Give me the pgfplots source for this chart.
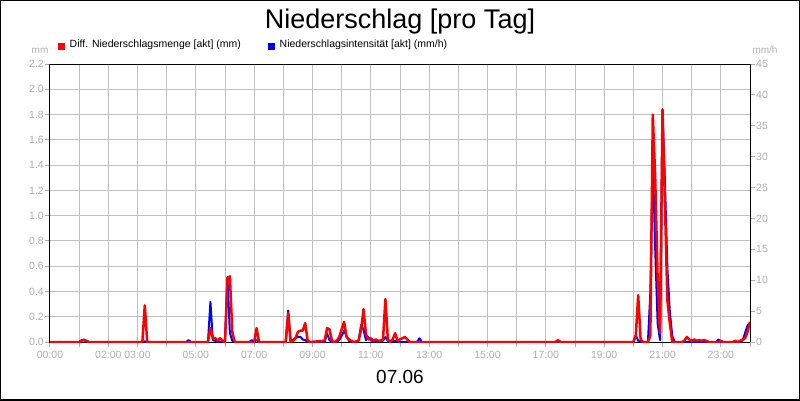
\documentclass[border=0pt]{standalone}
\usepackage{pgfplots}
\pgfplotsset{compat=1.18}
\usepackage{fontspec}
\setmainfont{Liberation Sans}
\definecolor{tickgray}{RGB}{175,175,175}
\definecolor{gridgray}{RGB}{192,192,192}
\pgfplotsset{
  common/.style={
    at={(50pt,58pt)}, anchor=south west, scale only axis,
    width=700pt, height=278pt, xmin=0, xmax=24,
    /pgf/number format/assume math mode=true,
    tick align=outside, major tick length=5pt,
    tick style={tickgray, line width=1pt},
    ticklabel style={tickgray, font=\fontsize{10.5}{12}\selectfont},
  }
}
\begin{document}
\begin{tikzpicture}[x=1pt,y=1pt]
\path[use as bounding box] (0,0) rectangle (800,400);
\fill[white] (0,0) rectangle (800,400);
% grid + left axis
\begin{axis}[common, ymin=0, ymax=2.2,
  xtick={0,1,...,24},
  xticklabels={00:00,,02:00,03:00,,05:00,,07:00,,09:00,,11:00,,13:00,,15:00,,17:00,,19:00,,21:00,,23:00,},
  ytick={0,0.2,0.4,0.6,0.8,1.0,1.2,1.4,1.6,1.8,2.0,2.2},
  yticklabels={0.0,0.2,0.4,0.6,0.8,1.0,1.2,1.4,1.6,1.8,2.0,2.2},
  xtick pos=bottom, ytick pos=left,
  yticklabel style={inner sep=1pt},
  xticklabel style={inner sep=3.5pt},
  grid=major, grid style={gridgray, line width=1pt},
  axis line style={black, line width=1pt}]
\end{axis}
% right axis, blue series
\begin{axis}[common, ymin=0, ymax=45,
  axis y line*=right, axis x line=none,
  ytick={0,5,10,15,20,25,30,35,40,45},
  yticklabels={0,5,10,15,20,25,30,35,40,45},
  yticklabel style={inner sep=1pt},
  axis line style={black, line width=1pt}]
\addplot[blue, line width=2pt, line join=round] coordinates {
(0,0) (1.0,0) (1.0833,0.3) (1.1667,0.4) (1.25,0) (3.1667,0) (3.25,0.1) (3.3333,0) (4.6667,0) (4.75,0.3) (4.8333,0)
(5.4167,0) (5.5,6.5) (5.5833,0.3) (5.6667,0.2) (5.75,0) (5.9167,0) (6.0,0.3) (6.0833,10.5) (6.1667,1.5) (6.25,0.2) (6.3333,0)
(6.8333,0) (6.9167,0.3) (7.0,0.1) (7.0833,0.3) (7.1667,0)
(8.0833,0) (8.1667,5.1) (8.25,0.2) (8.3333,0.3) (8.4167,0.6) (8.5,0.85) (8.5833,0.85) (8.6667,0.4) (8.75,0.3) (8.8333,0)
(9.4167,0) (9.5,1.4) (9.5833,0.3) (9.6667,0)
(9.8333,0) (9.9167,0.3) (10.0,1.0) (10.0833,1.8) (10.1667,1.0) (10.25,0.2) (10.3333,0)
(10.5,0) (10.5833,0.3) (10.6667,2.75) (10.75,2.0) (10.8333,0.3) (10.9167,0.8) (11.0,0.3) (11.0833,0.1) (11.1667,0)
(11.4167,0.2) (11.5,0.8) (11.5833,0.2) (11.6667,0) (11.75,0.1) (11.8333,0.2) (11.9167,0) (12.5833,0) (12.6667,0.6) (12.75,0)
(20.0,0) (20.0833,1.1) (20.1667,0.2) (20.25,0) (20.5,0) (20.5833,8) (20.6667,29.7) (20.75,15) (20.8333,3) (20.9167,0.3)
(21.0,37.5) (21.0833,26) (21.1667,12) (21.25,5) (21.3333,1) (21.4167,0)
(22.8333,0) (22.9167,0.4) (23.0,0) (23.6667,0) (23.75,0.3) (23.8333,1.5) (23.9167,2.7) (24,3.0)
};
\end{axis}
% red series
\begin{axis}[common, ymin=0, ymax=2.2, hide axis]
\addplot[red, line width=2.5pt, line join=round] coordinates {
(0,0) (1.0,0) (1.0833,0.01) (1.1667,0.015) (1.25,0.01) (1.3333,0)
(3.1667,0) (3.25,0.29) (3.3333,0)
(5.4167,0) (5.5,0.11) (5.5833,0.03) (5.6667,0.03) (5.75,0.01) (5.8333,0.03) (5.9167,0.01) (6.0,0) (6.0833,0.50) (6.1667,0.52) (6.25,0.08) (6.3333,0)
(7.0,0) (7.0833,0.11) (7.1667,0)
(8.0833,0) (8.1667,0.23) (8.25,0) (8.3333,0.01) (8.4167,0.03) (8.5,0.08) (8.5833,0.09) (8.6667,0.09) (8.75,0.15) (8.8333,0.01) (8.9167,0)
(9.4167,0.01) (9.5,0.11) (9.5833,0.10) (9.6667,0.01) (9.75,0)
(9.8333,0.01) (9.9167,0.04) (10.0,0.10) (10.0833,0.16) (10.1667,0.04) (10.25,0.02) (10.3333,0.01) (10.4167,0)
(10.5833,0.01) (10.6667,0.10) (10.75,0.26) (10.8333,0.06) (10.9167,0.02) (11.0,0.03) (11.0833,0.01) (11.1667,0.02) (11.25,0.01) (11.3333,0.01)
(11.4167,0.02) (11.5,0.34) (11.5833,0.02) (11.6667,0) (11.75,0.02) (11.8333,0.07) (11.9167,0.01) (12.0,0.02) (12.0833,0.03) (12.1667,0.04) (12.25,0.02) (12.3333,0)
(17.3333,0) (17.4167,0.015) (17.5,0)
(20.0,0) (20.0833,0.05) (20.1667,0.37) (20.25,0.02) (20.3333,0) (20.5,0) (20.5833,0.05) (20.6667,1.80) (20.75,1.3) (20.8333,0.5) (20.9167,0.07)
(21.0,1.84) (21.0833,1.10) (21.1667,0.33) (21.25,0.15) (21.3333,0)
(21.6667,0) (21.75,0.01) (21.8333,0.04) (21.9167,0.02) (22.0,0.01) (22.0833,0.02) (22.1667,0.01) (22.25,0.015) (22.3333,0.01) (22.4167,0.015) (22.5,0.01) (22.5833,0)
(22.9167,0) (23.0,0.01) (23.0833,0) (23.4167,0) (23.5,0.01) (23.5833,0) (23.6667,0.01) (23.75,0.02) (23.8333,0.03) (23.9167,0.08) (24,0.16)
};
\end{axis}
% title and labels
\node[anchor=base, font=\fontsize{27}{30}\selectfont] at (400,371) {Niederschlag [pro Tag]};
\node[anchor=base, font=\fontsize{19}{22}\selectfont] at (400,16.7) {07.06};
\node[anchor=base, tickgray, font=\fontsize{10}{12}\selectfont, inner sep=0pt] at (40,346.7) {mm};
\node[anchor=base, tickgray, font=\fontsize{10}{12}\selectfont, inner sep=0pt] at (765,346.7) {mm/h};
% legend
\fill[red] (58.3,349.5) rectangle (65.3,356.5);
\node[anchor=base west, font=\fontsize{10.5}{12}\selectfont, inner sep=0pt] at (69.5,352.5) {Diff. Niederschlagsmenge [akt] (mm)};
\fill[blue] (268.3,349.5) rectangle (275.3,356.5);
\node[anchor=base west, font=\fontsize{10.5}{12}\selectfont, inner sep=0pt] at (279.5,352.5) {Niederschlagsintensität [akt] (mm/h)};
\draw[black, line width=2pt] (0,0) rectangle (800,400);
\end{tikzpicture}
\end{document}
